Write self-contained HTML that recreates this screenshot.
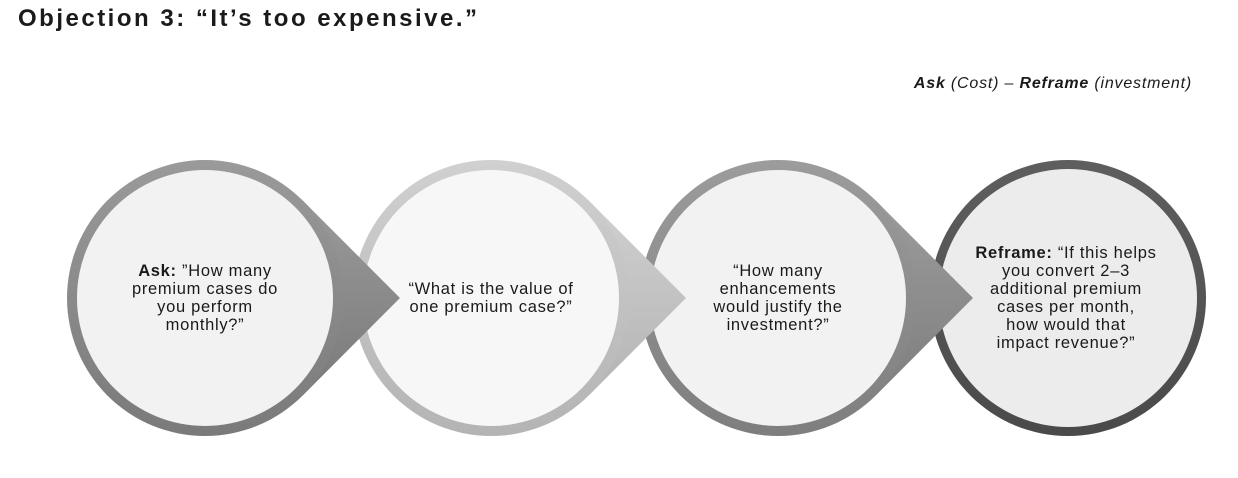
<!DOCTYPE html>
<html><head><meta charset="utf-8"><style>
html,body{margin:0;padding:0;background:#fff;width:1238px;height:478px;overflow:hidden}
svg{display:block}
text{font-family:"Liberation Sans",sans-serif;fill:#1a1a1a}
</style></head><body>
<svg width="1238" height="478" viewBox="0 0 1238 478">
<defs>
<linearGradient id="g1" x1="0" y1="0" x2="0" y2="1"><stop offset="0" stop-color="#9a9a9a"/><stop offset="1" stop-color="#7a7a7a"/></linearGradient>
<linearGradient id="g2" x1="0" y1="0" x2="0" y2="1"><stop offset="0" stop-color="#d0d0d0"/><stop offset="1" stop-color="#b4b4b4"/></linearGradient>
<linearGradient id="g3" x1="0" y1="0" x2="0" y2="1"><stop offset="0" stop-color="#9c9c9c"/><stop offset="1" stop-color="#7e7e7e"/></linearGradient>
<linearGradient id="g4" x1="0" y1="0" x2="0" y2="1"><stop offset="0" stop-color="#5e5e5e"/><stop offset="1" stop-color="#4a4a4a"/></linearGradient>
</defs>
<text x="18" y="26" font-size="24" font-weight="bold" letter-spacing="2.5">Objection 3: “It’s too expensive.”</text>
<text x="1192" y="88" font-size="16" text-anchor="end" font-style="italic" letter-spacing="0.8"><tspan font-weight="bold">Ask</tspan> (Cost) – <tspan font-weight="bold">Reframe</tspan> (investment)</text>

<circle cx="1068" cy="298" r="138" fill="url(#g4)"/>
<circle cx="1068" cy="298" r="129" fill="#ececec"/>
<path d="M875.6 200.4 L973 298 L875.6 395.6 Z" fill="url(#g3)"/>
<circle cx="778" cy="298" r="138" fill="url(#g3)"/>
<circle cx="778" cy="298" r="128" fill="#f2f2f2"/>
<path d="M588.6 200.4 L686 298 L588.6 395.6 Z" fill="url(#g2)"/>
<circle cx="491" cy="298" r="138" fill="url(#g2)"/>
<circle cx="491" cy="298" r="128" fill="#f7f7f7"/>
<path d="M302.6 200.4 L400 298 L302.6 395.6 Z" fill="url(#g1)"/>
<circle cx="205" cy="298" r="138" fill="url(#g1)"/>
<circle cx="205" cy="298" r="128" fill="#f2f2f2"/>

<g font-size="16.5" text-anchor="middle" letter-spacing="0.7">
<text x="205" y="276"><tspan font-weight="bold">Ask:</tspan> ”How many</text>
<text x="205" y="294">premium cases do</text>
<text x="205" y="312">you perform</text>
<text x="205" y="330">monthly?”</text>

<text x="491" y="294">“What is the value of</text>
<text x="491" y="312">one premium case?”</text>

<text x="778" y="276">“How many</text>
<text x="778" y="294">enhancements</text>
<text x="778" y="312">would justify the</text>
<text x="778" y="330">investment?”</text>

<text x="1066" y="258"><tspan font-weight="bold">Reframe:</tspan> “If this helps</text>
<text x="1066" y="276">you convert 2–3</text>
<text x="1066" y="294">additional premium</text>
<text x="1066" y="312">cases per month,</text>
<text x="1066" y="330">how would that</text>
<text x="1066" y="348">impact revenue?”</text>
</g>
</svg>
</body></html>
